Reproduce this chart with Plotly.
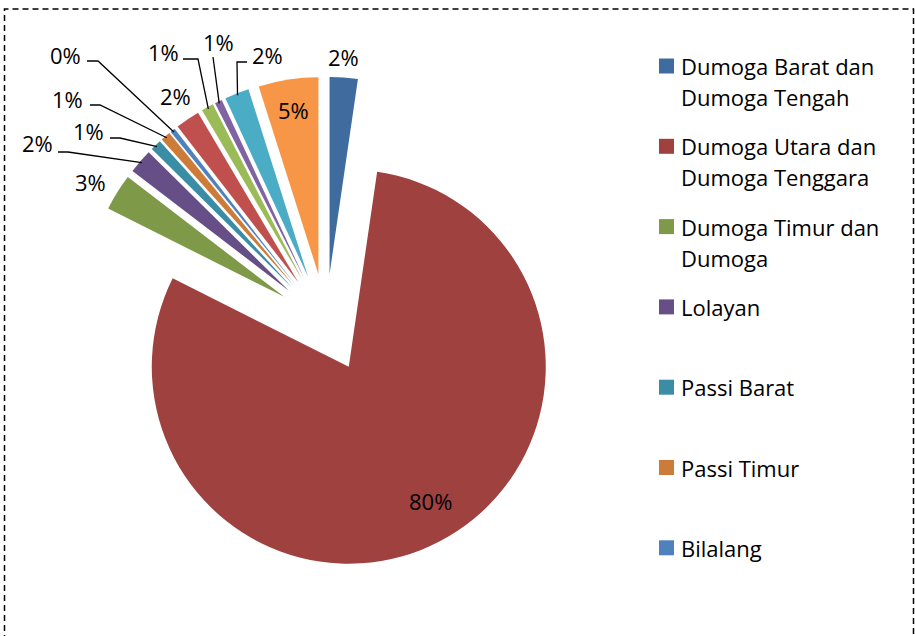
import math
import textwrap
import plotly.graph_objects as go

# ---------------- data ----------------
categories = [
    "Dumoga Barat dan Dumoga Tengah",
    "Dumoga Utara dan Dumoga Tenggara",
    "Dumoga Timur dan Dumoga",
    "Lolayan",
    "Passi Barat",
    "Passi Timur",
    "Bilalang",
    "Kategori 8",
    "Kategori 9",
    "Kategori 10",
    "Kategori 11",
    "Kategori 12",
]
values = [2.3, 80.1, 3.0, 2.0, 0.9, 0.8, 0.4, 2.0, 1.0, 0.6, 2.0, 4.9]
colors = ["#3F6B9E", "#9E413F", "#7E9A48", "#664E87", "#3B8DA5", "#CD7B38",
          "#4F81BD", "#C0504D", "#9BBB59", "#8064A2", "#4BACC6", "#F79646"]
legend_count = 7  # only the first seven entries are visible in the legend

# ---------------- layout constants (pixels) ----------------
W, H = 915, 636
CX, CY = 326, 323          # pie centre
R = 197                    # slice radius
PULL = 0.25                # explosion, fraction of radius
FONT = "Open Sans"
FS = 22

# label centre per slice and optional leader (start, elbow)
label_pos = [
    (343, 57, None),
    (430, 501, None),
    (90, 182, None),
    (37, 143, ((58, 152), (68, 152))),
    (88, 131, ((110, 138), (120, 138))),
    (67, 99, ((90, 105), (100, 105))),
    (65, 55, ((87, 61), (98, 61))),
    (175, 96, None),
    (163, 52, ((183, 59), (198, 59))),
    (218, 42, ((213, 57), (213, 57))),
    (267, 55, ((247, 62), (237, 62))),
    (293, 110, None),
]

def px(x):
    return x / W

def py(y):
    return 1 - y / H

half = R * (1 + PULL)
dom_x = [px(CX - half), px(CX + half)]
dom_y = [py(CY + half), py(CY - half)]

fig = go.Figure()
fig.add_trace(go.Pie(
    values=values,
    labels=categories,
    sort=False,
    direction="clockwise",
    rotation=0,
    pull=[PULL] * len(values),
    marker=dict(colors=colors, line=dict(width=0)),
    textinfo="none",
    showlegend=False,
    domain=dict(x=dom_x, y=dom_y),
))

total = sum(values)
annotations = []
shapes = []
cum = 0.0
for i, v in enumerate(values):
    mid = 2 * math.pi * (cum + v / 2) / total
    cum += v
    txt = f"{round(v / total * 100):.0f}%"
    lx, ly, leader = label_pos[i]
    annotations.append(dict(x=px(lx), y=py(ly), xref="paper", yref="paper",
                            text=txt, showarrow=False, xanchor="center", yanchor="middle",
                            font=dict(family=FONT, size=FS, color="black")))
    if leader is not None:
        rr = R * (1 + PULL) - 2
        ax = CX + rr * math.sin(mid)
        ay = CY - rr * math.cos(mid)
        (sx, sy), (ex, ey) = leader
        path = f"M {px(sx)},{py(sy)} L {px(ex)},{py(ey)} L {px(ax)},{py(ay)}"
        shapes.append(dict(type="path", xref="paper", yref="paper", path=path,
                           line=dict(color="black", width=1.3)))

# manual legend
LEG_X_SQ = 659
SQ = 15
LEG_X_TXT = 679
LEG_Y0 = 66
LEG_DY = 80.3
LINE_H = 31
for i in range(legend_count):
    yc = LEG_Y0 + i * LEG_DY
    shapes.append(dict(type="rect", xref="paper", yref="paper",
                       x0=px(LEG_X_SQ), x1=px(LEG_X_SQ + SQ),
                       y0=py(yc + SQ / 2), y1=py(yc - SQ / 2),
                       fillcolor=colors[i], line=dict(width=0)))
    for j, line in enumerate(textwrap.wrap(categories[i], 17)):
        annotations.append(dict(x=px(LEG_X_TXT), y=py(yc + j * LINE_H), xref="paper", yref="paper",
                                text=line, showarrow=False, xanchor="left", yanchor="middle",
                                font=dict(family=FONT, size=FS, color="black")))

# dashed frame
shapes.append(dict(type="rect", xref="paper", yref="paper",
                   x0=px(4.5), x1=px(913.5), y0=py(645), y1=py(9),
                   line=dict(color="black", width=1.5, dash="6px,4px"),
                   fillcolor="rgba(0,0,0,0)"))

fig.update_layout(
    width=W, height=H, autosize=False,
    margin=dict(l=0, r=0, t=0, b=0),
    paper_bgcolor="white", plot_bgcolor="white",
    showlegend=False,
    annotations=annotations,
    shapes=shapes,
)

fig.write_html("out.html",
               config={"displayModeBar": False},
               post_script="document.body.style.margin='0';document.body.style.overflow='hidden';")
